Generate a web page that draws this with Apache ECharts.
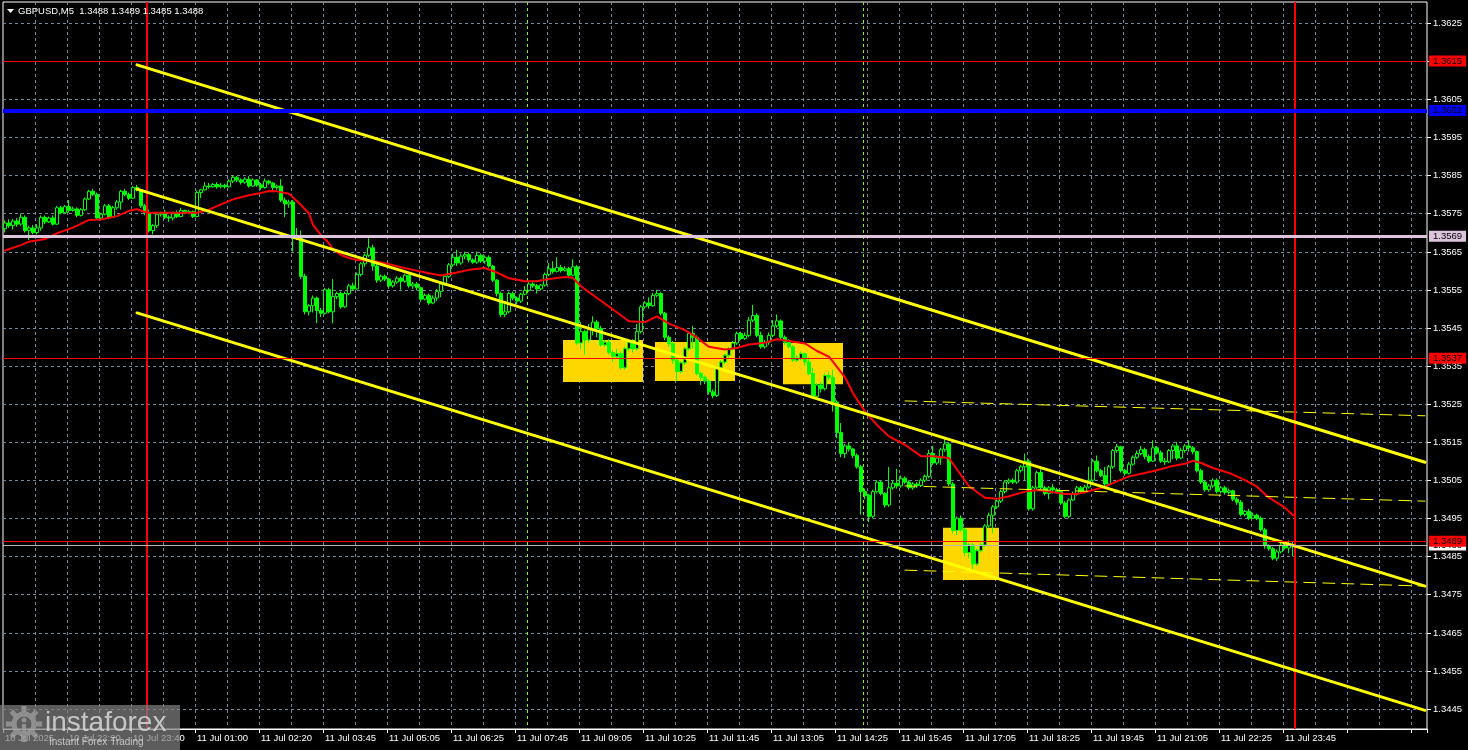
<!DOCTYPE html>
<html><head><meta charset="utf-8">
<script src="https://cdn.jsdelivr.net/npm/echarts@6/dist/echarts.min.js"></script>
<style>html,body{margin:0;padding:0;background:#000;}#c{width:1468px;height:750px;}</style>
</head><body><div id="c"></div>
<script>
const FONT = "'Liberation Sans', Arial, sans-serif";
const titleText = 'GBPUSD,M5  1.3488 1.3489 1.3485 1.3488';
const timeLabels = ["10 Jul 2025","10 Jul 22:20","10 Jul 23:40","11 Jul 01:00","11 Jul 02:20","11 Jul 03:45","11 Jul 05:05","11 Jul 06:25","11 Jul 07:45","11 Jul 09:05","11 Jul 10:25","11 Jul 11:45","11 Jul 13:05","11 Jul 14:25","11 Jul 15:45","11 Jul 17:05","11 Jul 18:25","11 Jul 19:45","11 Jul 21:05","11 Jul 22:25","11 Jul 23:45"];
const priceTicks = [1.3445,1.3455,1.3465,1.3475,1.3485,1.3495,1.3505,1.3515,1.3525,1.3535,1.3545,1.3555,1.3565,1.3575,1.3585,1.3595,1.3605,1.3615,1.3625];
const yMin = 1.34397, yMax = 1.36305;
const slotCount = 356;
const gridStep = 8;

const opens = [
1.35710,1.35725,1.35718,1.35730,1.35722,1.35740,1.35705,1.35712,1.35700,1.35712,
1.35740,1.35728,1.35738,1.35722,1.35765,1.35752,1.35768,1.35758,1.35762,1.35745,
1.35760,1.35788,1.35808,1.35800,1.35738,1.35748,1.35770,1.35740,1.35765,1.35780,
1.35808,1.35800,1.35790,1.35818,1.35812,1.35770,1.35752,1.35705,1.35718,1.35748,
1.35750,1.35740,1.35738,1.35750,1.35742,1.35758,1.35752,1.35755,1.35742,1.35805,
1.35812,1.35822,1.35820,1.35826,1.35820,1.35824,1.35820,1.35835,1.35845,1.35838,
1.35832,1.35840,1.35822,1.35838,1.35825,1.35818,1.35835,1.35830,1.35818,1.35822,
1.35785,1.35775,1.35780,1.35685,1.35690,1.35585,1.35492,1.35508,1.35528,1.35495,
1.35488,1.35550,1.35492,1.35532,1.35540,1.35505,1.35540,1.35560,1.35552,1.35590,
1.35618,1.35640,1.35660,1.35612,1.35575,1.35585,1.35578,1.35560,1.35570,1.35580,
1.35572,1.35588,1.35560,1.35565,1.35555,1.35525,1.35535,1.35515,1.35528,1.35545,
1.35565,1.35585,1.35615,1.35635,1.35620,1.35638,1.35642,1.35628,1.35622,1.35640,
1.35625,1.35635,1.35612,1.35575,1.35540,1.35485,1.35492,1.35540,1.35528,1.35520,
1.35538,1.35548,1.35565,1.35560,1.35552,1.35562,1.35590,1.35605,1.35598,1.35608,
1.35600,1.35605,1.35588,1.35610,1.35410,1.35440,1.35418,1.35445,1.35465,1.35448,
1.35405,1.35412,1.35385,1.35375,1.35382,1.35345,1.35395,1.35412,1.35395,1.35440,
1.35505,1.35515,1.35508,1.35535,1.35540,1.35488,1.35425,1.35408,1.35365,1.35335,
1.35358,1.35395,1.35435,1.35425,1.35330,1.35320,1.35310,1.35282,1.35272,1.35345,
1.35360,1.35378,1.35395,1.35410,1.35435,1.35422,1.35430,1.35470,1.35482,1.35430,
1.35400,1.35412,1.35430,1.35455,1.35468,1.35425,1.35412,1.35400,1.35365,1.35370,
1.35382,1.35360,1.35330,1.35270,1.35300,1.35290,1.35325,1.35320,1.35255,1.35175,
1.35120,1.35140,1.35132,1.35115,1.35085,1.35020,1.35010,1.34955,1.35020,1.35045,
1.35015,1.34985,1.35030,1.35042,1.35035,1.35055,1.35045,1.35030,1.35040,1.35036,
1.35050,1.35060,1.35120,1.35095,1.35108,1.35130,1.35145,1.35040,1.34918,1.34950,
1.34920,1.34860,1.34880,1.34830,1.34865,1.34880,1.34930,1.34958,1.34980,1.34995,
1.35020,1.35045,1.35050,1.35045,1.35075,1.35085,1.35100,1.34975,1.35030,1.35070,
1.35030,1.35015,1.35030,1.35025,1.35020,1.34990,1.34955,1.34998,1.35015,1.35030,
1.35020,1.35032,1.35050,1.35100,1.35075,1.35062,1.35040,1.35085,1.35128,1.35138,
1.35075,1.35068,1.35092,1.35110,1.35120,1.35130,1.35112,1.35100,1.35135,1.35122,
1.35100,1.35098,1.35128,1.35140,1.35108,1.35128,1.35140,1.35135,1.35125,1.35075,
1.35045,1.35025,1.35035,1.35050,1.35020,1.35030,1.35018,1.35022,1.35000,1.34992,
1.34960,1.34968,1.34950,1.34958,1.34950,1.34920,1.34878,1.34870,1.34845,1.34862,
1.34880,1.34872,1.34880];
const closes = [
1.35725,1.35718,1.35730,1.35722,1.35740,1.35705,1.35712,1.35700,1.35712,1.35740,
1.35728,1.35738,1.35722,1.35765,1.35752,1.35768,1.35758,1.35762,1.35745,1.35760,
1.35788,1.35808,1.35800,1.35738,1.35748,1.35770,1.35740,1.35765,1.35780,1.35808,
1.35800,1.35790,1.35818,1.35812,1.35770,1.35752,1.35705,1.35718,1.35748,1.35750,
1.35740,1.35738,1.35750,1.35742,1.35758,1.35752,1.35755,1.35742,1.35805,1.35812,
1.35822,1.35820,1.35826,1.35820,1.35824,1.35820,1.35835,1.35845,1.35838,1.35832,
1.35840,1.35822,1.35838,1.35825,1.35818,1.35835,1.35830,1.35818,1.35822,1.35785,
1.35775,1.35780,1.35685,1.35690,1.35585,1.35492,1.35508,1.35528,1.35495,1.35488,
1.35550,1.35492,1.35532,1.35540,1.35505,1.35540,1.35560,1.35552,1.35590,1.35618,
1.35640,1.35660,1.35612,1.35575,1.35585,1.35578,1.35560,1.35570,1.35580,1.35572,
1.35588,1.35560,1.35565,1.35555,1.35525,1.35535,1.35515,1.35528,1.35545,1.35565,
1.35585,1.35615,1.35635,1.35620,1.35638,1.35642,1.35628,1.35622,1.35640,1.35625,
1.35635,1.35612,1.35575,1.35540,1.35485,1.35492,1.35540,1.35528,1.35520,1.35538,
1.35548,1.35565,1.35560,1.35552,1.35562,1.35590,1.35605,1.35598,1.35608,1.35600,
1.35605,1.35588,1.35610,1.35410,1.35440,1.35418,1.35445,1.35465,1.35448,1.35405,
1.35412,1.35385,1.35375,1.35382,1.35345,1.35395,1.35412,1.35395,1.35440,1.35505,
1.35515,1.35508,1.35535,1.35540,1.35488,1.35425,1.35408,1.35365,1.35335,1.35358,
1.35395,1.35435,1.35425,1.35330,1.35320,1.35310,1.35282,1.35272,1.35345,1.35360,
1.35378,1.35395,1.35410,1.35435,1.35422,1.35430,1.35470,1.35482,1.35430,1.35400,
1.35412,1.35430,1.35455,1.35468,1.35425,1.35412,1.35400,1.35365,1.35370,1.35382,
1.35360,1.35330,1.35270,1.35300,1.35290,1.35325,1.35320,1.35255,1.35175,1.35120,
1.35140,1.35132,1.35115,1.35085,1.35020,1.35010,1.34955,1.35020,1.35045,1.35015,
1.34985,1.35030,1.35042,1.35035,1.35055,1.35045,1.35030,1.35040,1.35036,1.35050,
1.35060,1.35120,1.35095,1.35108,1.35130,1.35145,1.35040,1.34918,1.34950,1.34920,
1.34860,1.34880,1.34830,1.34865,1.34880,1.34930,1.34958,1.34980,1.34995,1.35020,
1.35045,1.35050,1.35045,1.35075,1.35085,1.35100,1.34975,1.35030,1.35070,1.35030,
1.35015,1.35030,1.35025,1.35020,1.34990,1.34955,1.34998,1.35015,1.35030,1.35020,
1.35032,1.35050,1.35100,1.35075,1.35062,1.35040,1.35085,1.35128,1.35138,1.35075,
1.35068,1.35092,1.35110,1.35120,1.35130,1.35112,1.35100,1.35135,1.35122,1.35100,
1.35098,1.35128,1.35140,1.35108,1.35128,1.35140,1.35135,1.35125,1.35075,1.35045,
1.35025,1.35035,1.35050,1.35020,1.35030,1.35018,1.35022,1.35000,1.34992,1.34960,
1.34968,1.34950,1.34958,1.34950,1.34920,1.34878,1.34870,1.34845,1.34862,1.34880,
1.34872,1.34880,1.34880];
const lows = [
1.35700,1.35712,1.35708,1.35715,1.35718,1.35700,1.35680,1.35695,1.35695,1.35705,
1.35722,1.35725,1.35718,1.35720,1.35748,1.35750,1.35752,1.35755,1.35740,1.35742,
1.35756,1.35785,1.35796,1.35735,1.35732,1.35745,1.35735,1.35738,1.35760,1.35760,
1.35795,1.35785,1.35788,1.35808,1.35765,1.35745,1.35700,1.35695,1.35712,1.35742,
1.35735,1.35728,1.35732,1.35738,1.35740,1.35748,1.35748,1.35738,1.35740,1.35790,
1.35810,1.35815,1.35818,1.35815,1.35816,1.35815,1.35818,1.35830,1.35832,1.35826,
1.35828,1.35818,1.35820,1.35820,1.35812,1.35815,1.35825,1.35812,1.35812,1.35780,
1.35740,1.35765,1.35650,1.35680,1.35578,1.35485,1.35482,1.35490,1.35462,1.35478,
1.35485,1.35488,1.35462,1.35525,1.35500,1.35502,1.35535,1.35548,1.35550,1.35585,
1.35610,1.35635,1.35600,1.35568,1.35570,1.35572,1.35552,1.35555,1.35565,1.35550,
1.35568,1.35555,1.35552,1.35548,1.35518,1.35522,1.35510,1.35512,1.35520,1.35530,
1.35560,1.35580,1.35610,1.35612,1.35615,1.35630,1.35622,1.35618,1.35618,1.35620,
1.35618,1.35608,1.35570,1.35532,1.35478,1.35478,1.35488,1.35522,1.35512,1.35515,
1.35535,1.35545,1.35555,1.35540,1.35548,1.35558,1.35585,1.35592,1.35595,1.35595,
1.35598,1.35582,1.35585,1.35405,1.35395,1.35380,1.35410,1.35430,1.35425,1.35400,
1.35400,1.35380,1.35360,1.35370,1.35340,1.35340,1.35390,1.35385,1.35390,1.35435,
1.35500,1.35500,1.35505,1.35530,1.35482,1.35418,1.35400,1.35355,1.35310,1.35330,
1.35352,1.35390,1.35395,1.35325,1.35300,1.35302,1.35275,1.35265,1.35268,1.35340,
1.35355,1.35372,1.35390,1.35405,1.35418,1.35418,1.35425,1.35465,1.35425,1.35395,
1.35395,1.35405,1.35425,1.35450,1.35420,1.35405,1.35395,1.35360,1.35360,1.35365,
1.35350,1.35325,1.35265,1.35262,1.35280,1.35285,1.35312,1.35230,1.35160,1.35110,
1.35108,1.35125,1.35108,1.35080,1.34960,1.35000,1.34940,1.34950,1.35015,1.35010,
1.34978,1.34980,1.35025,1.35028,1.35030,1.35040,1.35025,1.35025,1.35030,1.35032,
1.35045,1.35055,1.35090,1.35090,1.35090,1.35125,1.35035,1.34910,1.34905,1.34915,
1.34850,1.34845,1.34810,1.34825,1.34860,1.34875,1.34925,1.34910,1.34975,1.34990,
1.35015,1.35040,1.35040,1.35040,1.35070,1.35050,1.34970,1.34970,1.35025,1.35025,
1.35010,1.35000,1.35015,1.35015,1.34985,1.34950,1.34950,1.34995,1.35010,1.35015,
1.35015,1.35028,1.35045,1.35070,1.35058,1.35035,1.35035,1.35080,1.35122,1.35070,
1.35062,1.35065,1.35088,1.35105,1.35115,1.35105,1.35095,1.35098,1.35118,1.35095,
1.35090,1.35095,1.35105,1.35102,1.35105,1.35122,1.35125,1.35118,1.35070,1.35040,
1.35020,1.35020,1.35030,1.35015,1.35015,1.35012,1.35012,1.34995,1.34985,1.34955,
1.34955,1.34945,1.34948,1.34945,1.34915,1.34870,1.34865,1.34840,1.34838,1.34858,
1.34868,1.34858,1.34850];
const highs = [
1.35732,1.35735,1.35735,1.35738,1.35750,1.35745,1.35718,1.35720,1.35722,1.35745,
1.35745,1.35742,1.35745,1.35770,1.35770,1.35772,1.35785,1.35768,1.35766,1.35764,
1.35792,1.35812,1.35815,1.35805,1.35752,1.35775,1.35775,1.35770,1.35785,1.35812,
1.35815,1.35805,1.35822,1.35825,1.35815,1.35775,1.35760,1.35722,1.35752,1.35755,
1.35760,1.35745,1.35755,1.35758,1.35765,1.35760,1.35760,1.35758,1.35810,1.35815,
1.35832,1.35830,1.35830,1.35832,1.35830,1.35828,1.35840,1.35850,1.35848,1.35842,
1.35845,1.35848,1.35842,1.35840,1.35830,1.35842,1.35838,1.35832,1.35826,1.35840,
1.35792,1.35786,1.35785,1.35712,1.35705,1.35592,1.35512,1.35535,1.35532,1.35502,
1.35555,1.35555,1.35578,1.35545,1.35545,1.35545,1.35565,1.35568,1.35595,1.35622,
1.35645,1.35685,1.35668,1.35618,1.35590,1.35590,1.35582,1.35575,1.35585,1.35585,
1.35592,1.35590,1.35570,1.35570,1.35558,1.35540,1.35540,1.35535,1.35552,1.35570,
1.35590,1.35620,1.35645,1.35655,1.35645,1.35650,1.35648,1.35632,1.35650,1.35645,
1.35640,1.35640,1.35615,1.35578,1.35545,1.35512,1.35545,1.35545,1.35532,1.35542,
1.35560,1.35570,1.35570,1.35565,1.35565,1.35595,1.35620,1.35625,1.35635,1.35615,
1.35612,1.35610,1.35630,1.35615,1.35465,1.35445,1.35460,1.35480,1.35470,1.35455,
1.35418,1.35420,1.35390,1.35395,1.35388,1.35400,1.35418,1.35420,1.35460,1.35510,
1.35520,1.35530,1.35542,1.35550,1.35545,1.35492,1.35430,1.35415,1.35370,1.35362,
1.35400,1.35440,1.35455,1.35430,1.35335,1.35325,1.35315,1.35288,1.35350,1.35365,
1.35382,1.35400,1.35415,1.35440,1.35440,1.35438,1.35478,1.35510,1.35488,1.35440,
1.35418,1.35438,1.35470,1.35485,1.35472,1.35430,1.35420,1.35405,1.35378,1.35388,
1.35385,1.35372,1.35345,1.35305,1.35308,1.35330,1.35335,1.35340,1.35260,1.35200,
1.35145,1.35150,1.35135,1.35120,1.35090,1.35028,1.35015,1.35025,1.35050,1.35048,
1.35018,1.35085,1.35050,1.35080,1.35062,1.35060,1.35050,1.35045,1.35045,1.35055,
1.35065,1.35130,1.35140,1.35115,1.35135,1.35160,1.35150,1.35045,1.34955,1.34958,
1.34925,1.34885,1.34885,1.34870,1.34885,1.34935,1.34965,1.34985,1.35000,1.35025,
1.35050,1.35055,1.35055,1.35080,1.35090,1.35120,1.35105,1.35035,1.35075,1.35085,
1.35035,1.35035,1.35040,1.35030,1.35022,1.34995,1.35002,1.35020,1.35035,1.35035,
1.35038,1.35085,1.35105,1.35115,1.35080,1.35085,1.35090,1.35132,1.35145,1.35140,
1.35080,1.35098,1.35115,1.35128,1.35140,1.35135,1.35118,1.35155,1.35140,1.35128,
1.35108,1.35132,1.35145,1.35150,1.35135,1.35145,1.35155,1.35140,1.35128,1.35080,
1.35048,1.35040,1.35055,1.35055,1.35035,1.35035,1.35028,1.35025,1.35005,1.34998,
1.34972,1.34975,1.34965,1.34962,1.34955,1.34925,1.34882,1.34875,1.34868,1.34888,
1.34882,1.34892,1.34890];

const maPoints = [[0,1.35653],[4,1.35667],[6,1.35676],[10,1.35683],[13,1.35698],[17,1.35713],[21,1.35733],[24,1.35734],[28,1.35743],[31,1.35757],[33,1.35761],[35,1.35754],[36,1.35752],[40,1.35752],[48,1.35752],[51,1.35760],[54,1.35774],[57,1.35787],[61,1.35798],[64,1.35804],[66,1.35809],[68,1.35808],[71,1.35802],[72,1.35792],[74,1.35772],[76,1.35750],[77,1.35720],[79,1.35693],[81,1.35672],[82,1.35656],[84,1.35641],[86,1.35633],[88,1.35628],[91,1.35626],[93,1.35624],[96,1.35617],[99,1.35609],[102,1.35602],[106,1.35593],[109,1.35587],[113,1.35595],[116,1.35602],[120,1.35607],[123,1.35595],[126,1.35580],[130,1.35572],[133,1.35572],[136,1.35578],[140,1.35583],[142,1.35581],[144,1.35559],[148,1.35528],[152,1.35498],[156,1.35467],[160,1.35465],[163,1.35480],[166,1.35461],[170,1.35444],[173,1.35424],[176,1.35400],[180,1.35393],[183,1.35397],[186,1.35406],[190,1.35411],[193,1.35420],[196,1.35415],[200,1.35409],[203,1.35389],[206,1.35374],[210,1.35320],[212,1.35278],[215,1.35230],[218,1.35195],[221,1.35165],[225,1.35143],[229,1.35113],[232,1.35113],[236,1.35108],[238,1.35078],[241,1.35034],[245,1.35004],[248,1.35001],[251,1.35008],[255,1.35020],[258,1.35024],[261,1.35020],[265,1.35014],[268,1.35014],[271,1.35021],[275,1.35033],[278,1.35047],[281,1.35060],[285,1.35069],[288,1.35076],[291,1.35085],[295,1.35093],[297,1.35101],[299,1.35095],[302,1.35082],[306,1.35069],[310,1.35050],[313,1.35033],[316,1.35004],[320,1.34978],[322,1.34958]];

const channelUpper = [[33,1.36140],[355,1.35097]];
const channelMiddle = [[33,1.35814],[355,1.34772]];
const channelLower = [[33,1.35489],[355,1.34446]];
const dashUpper = [[225,1.35258],[355,1.35219]];
const dashMiddle = [[225,1.35035],[355,1.34995]];
const dashLower = [[225,1.34814],[355,1.34772]];
const zones = [[140,159,1.35418,1.35308],[163,182,1.35413,1.35310],[195,209,1.35410,1.35302],[235,248,1.34925,1.34788]];
const dayBreaks = [36, 323];
const markerBars = [131, 215];
const levels = [
  {value:1.3615, color:'#ff0000', width:1, bg:'#ff0000'},
  {value:1.3602, color:'#0000ff', width:4, bg:'#0000ff'},
  {value:1.3569, color:'#dcc4dc', width:3, bg:'#dcc4dc'},
  {value:1.3537, color:'#ff0000', width:1, bg:'#ff0000'},
  {value:1.3488, color:'#b8b8b8', width:1, bg:'#ffffff'},
  {value:1.3489, color:'#ff0000', width:1, bg:'#ff0000'}
];

const categories = Array.from({length: slotCount}, (_, i) => String(i));
const candleData = opens.map((o, i) => [o, closes[i], lows[i], highs[i]]);
const gridCols = [];
for (let i = gridStep; i < slotCount; i += gridStep) gridCols.push([i, yMin, yMax]);

function vLineSeries(list, color, dash, width, z) {
  return {
    type: 'custom', z: z, silent: true,
    data: list.map(i => [i, yMin, yMax]),
    encode: {x: 0, y: [1, 2]},
    renderItem(params, api) {
      const bw = api.size([1, 0])[0];
      const p = api.coord([api.value(0), api.value(2)]);
      let x = Math.round(p[0] - bw / 2);
      if (width % 2 === 1) x += 0.5;
      const cs = params.coordSys;
      return {type: 'line', shape: {x1: x, y1: cs.y, x2: x, y2: cs.y + cs.height},
        style: {stroke: color, lineWidth: width, lineDash: dash}};
    }
  };
}
function straight(data, color, width, dash, z) {
  return {type: 'line', data: data, symbol: 'none', silent: true, z: z,
    lineStyle: {color: color, width: width, type: dash || 'solid', cap: 'round'}};
}

const chart = echarts.init(document.getElementById('c'), null, {renderer: 'canvas'});
chart.setOption({
  animation: false,
  backgroundColor: '#000',
  grid: {left: 3, right: 41, top: 2, bottom: 21, show: true, borderColor: '#ffffff', borderWidth: 1, containLabel: false, outerBoundsMode: 'none'},
  xAxis: {
    type: 'category', data: categories, boundaryGap: true,
    axisLine: {show: true, lineStyle: {color: '#ffffff'}},
    axisTick: {show: true, interval: 15, length: 4, lineStyle: {color: '#ffffff'}},
    axisLabel: {interval: 15, color: '#ffffff', fontSize: 9.5, fontFamily: FONT, align: 'left', margin: 4,
      formatter: (v, idx) => (idx % 16 === 0 && timeLabels[idx / 16]) || ''},
    splitLine: {show: false}
  },
  yAxis: {type: 'value', position: 'right', min: yMin, max: yMax,
    axisLine: {show: false}, axisTick: {show: false}, axisLabel: {show: false}, splitLine: {show: false}},
  series: [
    vLineSeries(gridCols.map(d => d[0]), '#778899', [3, 3], 1, 0),
    {type: 'custom', z: 0, silent: true, clip: false,
      data: priceTicks.map(v => [0, v]), encode: {x: 0, y: 1},
      renderItem(params, api) {
        const cs = params.coordSys;
        const p = api.coord([0, api.value(1)]);
        const y = Math.round(p[1]) + 0.5;
        return {type: 'group', children: [
          {type: 'line', shape: {x1: cs.x, y1: y, x2: cs.x + cs.width, y2: y}, style: {stroke: '#778899', lineWidth: 1, lineDash: [3, 3]}},
          {type: 'line', shape: {x1: cs.x + cs.width, y1: y, x2: cs.x + cs.width + 4, y2: y}, style: {stroke: '#ffffff', lineWidth: 1}},
          {type: 'text', x: cs.x + cs.width + 6, y: y, style: {text: api.value(1).toFixed(4), fill: '#ffffff', font: '9.5px ' + FONT, verticalAlign: 'middle'}}
        ]};
      }},
    {type: 'custom', z: 1, silent: true, data: zones, encode: {x: [0, 1], y: [2, 3]},
      renderItem(params, api) {
        const bw = api.size([1, 0])[0];
        const a = api.coord([api.value(0), api.value(2)]);
        const b = api.coord([api.value(1), api.value(3)]);
        return {type: 'rect', shape: {x: a[0] - bw / 2, y: a[1], width: b[0] - a[0] + bw, height: b[1] - a[1]},
          style: {fill: '#ffd700'}};
      }},
    {type: 'candlestick', data: candleData, z: 2, barWidth: 3, silent: true,
      itemStyle: {color: '#000000', color0: '#00ff00', borderColor: '#00ff00', borderColor0: '#00ff00', borderColorDoji: '#00ff00', borderWidth: 1}},
    straight(maPoints, '#ff0000', 2, 'solid', 3),
    straight(dashUpper, '#ffff00', 1, [12, 7], 3),
    straight(dashMiddle, '#ffff00', 1, [12, 7], 3),
    straight(dashLower, '#ffff00', 1, [12, 7], 3),
    straight(channelUpper, '#ffff00', 3, 'solid', 4),
    straight(channelMiddle, '#ffff00', 3, 'solid', 4),
    straight(channelLower, '#ffff00', 3, 'solid', 4),
    vLineSeries(markerBars, '#7cfc00', [3, 3], 1, 3),
    vLineSeries(dayBreaks, '#ff0000', null, 2, 4),
    {type: 'line', data: [], silent: true, z: 5,
      markLine: {silent: true, z: 5, precision: 5, symbol: ['none', 'none'], animation: false,
        emphasis: {disabled: true},
        label: {show: true, position: 'end', distance: 2, fontSize: 9.5, fontFamily: FONT, color: '#000000',
          padding: [1, 4, 0, 4], formatter: p => Number(p.value).toFixed(4)},
        data: levels.map(l => ({yAxis: l.value,
          lineStyle: {color: l.color, width: l.width, type: 'solid'},
          label: {backgroundColor: l.bg}}))}}
  ],
  graphic: [
    {type: 'polygon', z: 100, shape: {points: [[7, 9], [14, 9], [10.5, 13]]}, style: {fill: '#ffffff'}},
    {type: 'text', z: 100, x: 18, y: 11, style: {text: titleText, fill: '#ffffff', font: '9.5px ' + FONT, verticalAlign: 'middle'}},
    {type: 'rect', z: 100, shape: {x: 0, y: 705, width: 180, height: 45}, style: {fill: 'rgba(128,128,128,0.72)'}},
    {type: 'group', z: 101, x: 24, y: 724, children: [
      {type: 'circle', shape: {cx: 0, cy: 0, r: 10}, style: {fill: 'none', stroke: 'rgba(215,215,215,0.85)', lineWidth: 5}},
      {type: 'rect', shape: {x: -2.5, y: -18, width: 5, height: 6}, style: {fill: 'rgba(215,215,215,0.85)'}},
      {type: 'rect', shape: {x: -2.5, y: 12, width: 5, height: 6}, style: {fill: 'rgba(215,215,215,0.85)'}},
      {type: 'rect', shape: {x: -18, y: -2.5, width: 6, height: 5}, style: {fill: 'rgba(215,215,215,0.85)'}},
      {type: 'rect', shape: {x: 12, y: -2.5, width: 6, height: 5}, style: {fill: 'rgba(215,215,215,0.85)'}},
      {type: 'rect', rotation: Math.PI / 4, shape: {x: -2.5, y: -18, width: 5, height: 6}, style: {fill: 'rgba(215,215,215,0.85)'}},
      {type: 'rect', rotation: Math.PI / 4, shape: {x: -2.5, y: 12, width: 5, height: 6}, style: {fill: 'rgba(215,215,215,0.85)'}},
      {type: 'rect', rotation: Math.PI / 4, shape: {x: -18, y: -2.5, width: 6, height: 5}, style: {fill: 'rgba(215,215,215,0.85)'}},
      {type: 'rect', rotation: Math.PI / 4, shape: {x: 12, y: -2.5, width: 6, height: 5}, style: {fill: 'rgba(215,215,215,0.85)'}},
      {type: 'circle', shape: {cx: 0, cy: -4, r: 2.5}, style: {fill: 'rgba(215,215,215,0.85)'}},
      {type: 'rect', shape: {x: -2, y: 0, width: 4, height: 8}, style: {fill: 'rgba(215,215,215,0.85)'}}
    ]},
    {type: 'text', z: 101, x: 45, y: 723, style: {text: 'instaforex', fill: 'rgba(215,215,215,0.85)', font: '28px ' + FONT, verticalAlign: 'middle'}},
    {type: 'text', z: 101, x: 49, y: 742, style: {text: 'Instant Forex Trading', fill: 'rgba(215,215,215,0.85)', font: '10px ' + FONT, verticalAlign: 'middle'}}
  ]
});
</script>
</body></html>
